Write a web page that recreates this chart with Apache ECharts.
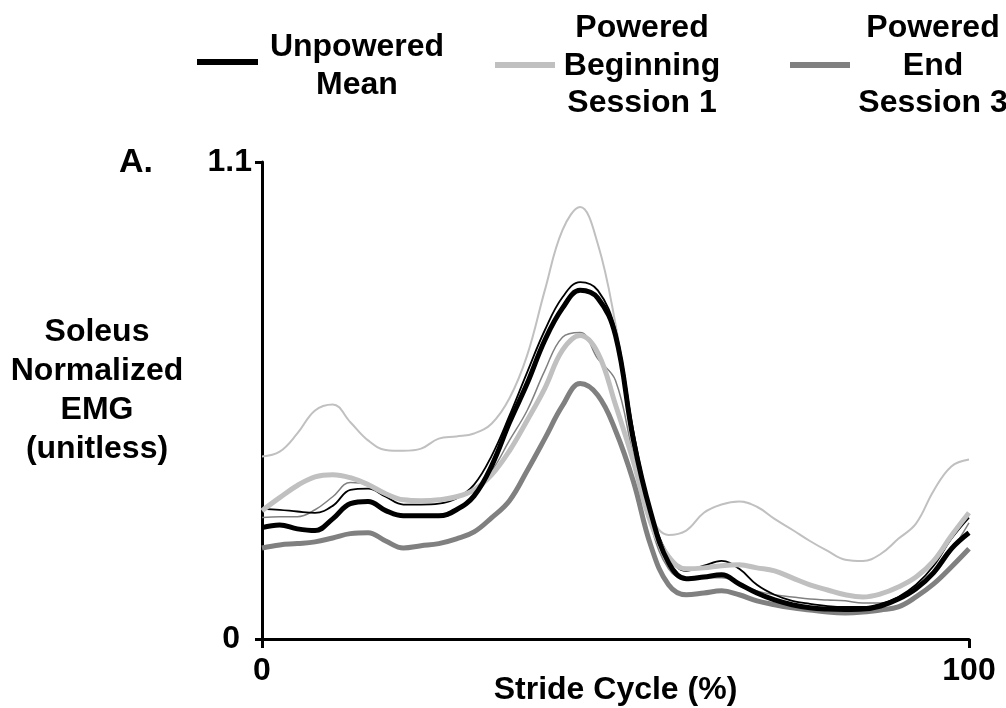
<!DOCTYPE html>
<html>
<head>
<meta charset="utf-8">
<script src="https://cdn.jsdelivr.net/npm/echarts@6/dist/echarts.min.js"></script>
<style>
  html, body { margin: 0; padding: 0; background: #fff; }
  #chart { width: 1006px; height: 708px; }
</style>
</head>
<body>
<div id="chart"></div>
<script>
// Stride cycle sample points (%)
const stride = [0, 2.5, 5, 7.5, 10, 12.5, 15, 17.5, 20, 22.5, 25, 27.5, 30, 32.5, 35, 37.5, 40, 42.5, 45, 47.5,
  50, 52.5, 55, 57.5, 60, 62.5, 65, 67.5, 70, 72.5, 75, 77.5, 80, 82.5, 85, 87.5, 90, 92.5, 95, 97.5, 100];

// Soleus normalized EMG traces
const unpoweredMean = [0.257, 0.263, 0.254, 0.250, 0.277, 0.312, 0.317, 0.296, 0.284, 0.284, 0.284, 0.298, 0.330, 0.400, 0.499,
  0.589, 0.689, 0.763, 0.804, 0.786, 0.700, 0.462, 0.291, 0.176, 0.139, 0.143, 0.148, 0.127, 0.106, 0.090, 0.079, 0.072,
  0.069, 0.068, 0.069, 0.076, 0.092, 0.116, 0.153, 0.208, 0.245];
const unpoweredThin = [0.300, 0.298, 0.294, 0.291, 0.307, 0.344, 0.347, 0.328, 0.310, 0.310, 0.312, 0.324, 0.356, 0.423, 0.515,
  0.615, 0.712, 0.788, 0.823, 0.804, 0.712, 0.481, 0.296, 0.192, 0.157, 0.169, 0.180, 0.162, 0.125, 0.102, 0.088, 0.081,
  0.076, 0.074, 0.074, 0.081, 0.097, 0.125, 0.169, 0.231, 0.280];
const poweredBeginning = [0.296, 0.326, 0.354, 0.374, 0.379, 0.372, 0.356, 0.335, 0.321, 0.319, 0.321, 0.328, 0.344, 0.379, 0.434,
  0.504, 0.578, 0.666, 0.700, 0.660, 0.540, 0.411, 0.268, 0.190, 0.162, 0.164, 0.169, 0.171, 0.164, 0.157, 0.141, 0.125,
  0.113, 0.102, 0.097, 0.104, 0.120, 0.143, 0.180, 0.238, 0.291];
const poweredBeginningThin = [0.421, 0.432, 0.474, 0.527, 0.541, 0.500, 0.458, 0.436, 0.434, 0.439, 0.462, 0.467, 0.474, 0.497, 0.555,
  0.654, 0.804, 0.943, 0.996, 0.911, 0.726, 0.481, 0.289, 0.240, 0.250, 0.291, 0.310, 0.317, 0.305, 0.277, 0.252, 0.226,
  0.203, 0.183, 0.180, 0.196, 0.231, 0.266, 0.342, 0.398, 0.414];
const poweredEnd = [0.210, 0.217, 0.220, 0.224, 0.233, 0.243, 0.245, 0.226, 0.210, 0.215, 0.220, 0.231, 0.247, 0.280, 0.319,
  0.388, 0.462, 0.538, 0.589, 0.562, 0.481, 0.365, 0.215, 0.125, 0.102, 0.106, 0.111, 0.102, 0.088, 0.079, 0.072, 0.067,
  0.062, 0.060, 0.062, 0.067, 0.074, 0.097, 0.127, 0.166, 0.208];
const poweredEndThin = [0.280, 0.282, 0.282, 0.298, 0.328, 0.361, 0.356, 0.337, 0.321, 0.319, 0.319, 0.328, 0.347, 0.388, 0.458,
  0.527, 0.619, 0.696, 0.707, 0.646, 0.596, 0.423, 0.261, 0.162, 0.139, 0.141, 0.141, 0.129, 0.111, 0.102, 0.097, 0.092,
  0.090, 0.088, 0.083, 0.083, 0.092, 0.116, 0.148, 0.203, 0.268];

const yTicks = [0, 1.1];
const xTicks = [0, 100];

const FONT = '"Liberation Sans", Arial, sans-serif';
const BLACK = '#000000';
const LIGHT = '#c0c0c0';
const DARK = '#808080';

function pairs(values) {
  return stride.map((x, i) => [x, values[i]]);
}

function trace(name, values, color, width) {
  return {
    name: name,
    type: 'line',
    data: pairs(values),
    smooth: 0.4,
    showSymbol: false,
    symbol: 'none',
    silent: true,
    lineStyle: { color: color, width: width },
    emphasis: { disabled: true }
  };
}

// Legend entries: swatch + centred multi-line label
const legendItems = [
  { color: BLACK, x1: 197, x2: 258, y: 62, text: 'Unpowered\nMean', cx: 357, cy: 66 },
  { color: LIGHT, x1: 495, x2: 555, y: 65, text: 'Powered\nBeginning\nSession 1', cx: 642, cy: 66 },
  { color: DARK, x1: 790, x2: 850, y: 65, text: 'Powered\nEnd\nSession 3', cx: 933, cy: 66 }
];

const legendGraphics = [];
legendItems.forEach(it => {
  legendGraphics.push({
    type: 'line',
    shape: { x1: it.x1, y1: it.y, x2: it.x2, y2: it.y },
    style: { stroke: it.color, lineWidth: 6 }
  });
  legendGraphics.push({
    type: 'text',
    x: it.cx,
    y: it.cy,
    style: {
      text: it.text,
      font: 'bold 32px ' + FONT,
      fill: '#000',
      align: 'center',
      verticalAlign: 'middle',
      lineHeight: 37.5
    }
  });
});

const chart = echarts.init(document.getElementById('chart'), null, { renderer: 'canvas' });

chart.setOption({
  animation: false,
  backgroundColor: '#ffffff',
  grid: { left: 262, right: 37, top: 162, bottom: 69, containLabel: false, outerBoundsMode: 'none' },
  xAxis: {
    type: 'value',
    min: xTicks[0],
    max: xTicks[1],
    interval: 100,
    name: 'Stride Cycle (%)',
    nameLocation: 'middle',
    nameGap: 35,
    nameMoveOverlap: false,
    nameTextStyle: { fontFamily: FONT, fontWeight: 'bold', fontSize: 32, color: '#000' },
    axisLine: { show: true, lineStyle: { color: '#000', width: 3 } },
    axisTick: { show: true, length: 9, lineStyle: { color: '#000', width: 3 } },
    axisLabel: { margin: 16, fontFamily: FONT, fontWeight: 'bold', fontSize: 32, color: '#000' },
    splitLine: { show: false }
  },
  yAxis: {
    type: 'value',
    min: yTicks[0],
    max: yTicks[1],
    interval: 1.1,
    // trailing spacer line lifts the centred title block slightly
    name: 'Soleus\nNormalized\nEMG\n(unitless)\n{gap|}',
    nameLocation: 'middle',
    nameRotate: 0,
    nameGap: 165,
    nameMoveOverlap: false,
    nameTextStyle: {
      fontFamily: FONT, fontWeight: 'bold', fontSize: 32, color: '#000',
      lineHeight: 39, align: 'center', verticalAlign: 'middle',
      rich: { gap: { fontSize: 10, lineHeight: 19 } }
    },
    axisLine: { show: true, lineStyle: { color: '#000', width: 3 } },
    axisTick: { show: true, length: 7, lineStyle: { color: '#000', width: 3 } },
    axisLabel: {
      margin: 10,
      fontFamily: FONT, fontWeight: 'bold', fontSize: 32, color: '#000',
      formatter: v => (v === 0 ? '{z|0}' : String(v)),
      rich: { z: { fontFamily: FONT, fontWeight: 'bold', fontSize: 32, color: '#000', padding: [0, 12, 0, 0] } }
    },
    splitLine: { show: false }
  },
  graphic: [
    {
      type: 'text',
      x: 119,
      y: 163,
      style: { text: 'A.', font: 'bold 34px ' + FONT, fill: '#000', align: 'left', verticalAlign: 'middle' }
    }
  ].concat(legendGraphics),
  series: [
    trace('Powered Beginning (thin)', poweredBeginningThin, LIGHT, 2),
    trace('Powered End (thin)', poweredEndThin, DARK, 1.5),
    trace('Unpowered (thin)', unpoweredThin, BLACK, 1.8),
    trace('Powered Beginning Session 1', poweredBeginning, LIGHT, 5),
    trace('Powered End Session 3', poweredEnd, DARK, 5),
    trace('Unpowered Mean', unpoweredMean, BLACK, 5)
  ]
});
</script>
</body>
</html>
